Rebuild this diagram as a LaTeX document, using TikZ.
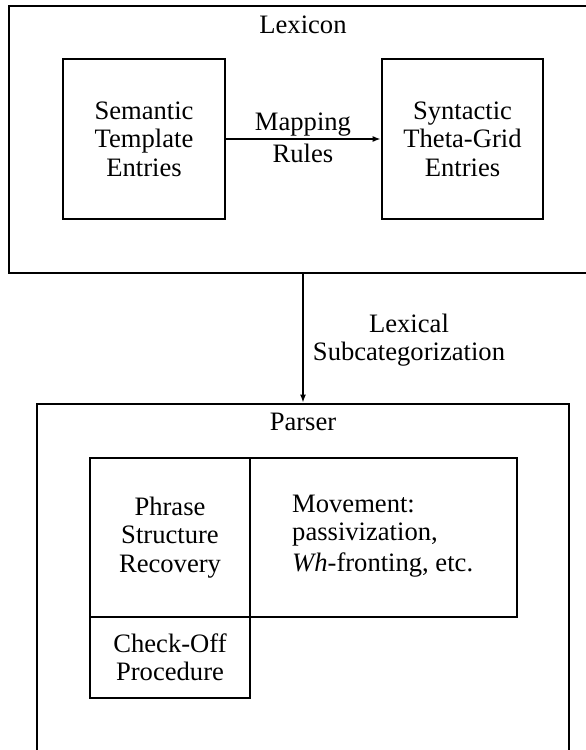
\documentclass[tikz,border=0pt]{standalone}
\usepackage{fontspec}
\setmainfont{Liberation Serif}
\usetikzlibrary{arrows.meta}
\begin{document}
\begin{tikzpicture}[x=1pt,y=-1pt,
  txt/.style={font=\fontsize{26.6}{28.5}\selectfont, align=center, inner sep=0pt},
  bigbox/.style={draw, line width=2.8pt, inner sep=0pt},
  inbox/.style={draw, line width=2.6pt, inner sep=0pt, txt},
  pbox/.style={draw, line width=2.1pt, inner sep=0pt, txt},
  arr/.style={-{Latex[length=8pt,width=6pt]}, line width=2.2pt}]
\useasboundingbox (0,0) rectangle (586,750);
% Lexicon
\node[bigbox, minimum width=590pt, minimum height=267pt] (lex) at (304,139.5) {};
\node[txt] (lexlbl) at (303,25) {Lexicon};
\node[inbox, minimum width=162pt, minimum height=160pt] (sem) at (144,139) {Semantic\\Template\\Entries};
\node[inbox, minimum width=161pt, minimum height=160pt] (syn) at (462.5,139) {Syntactic\\Theta-Grid\\Entries};
\draw[arr] (sem.east) -- (syn.west);
\node[txt, font=\fontsize{26.6}{32}\selectfont] (map) at (303,138) {Mapping\\Rules};
% Parser
\node[bigbox, minimum width=532pt, minimum height=356pt] (par) at (303,582) {};
\node[txt] (parlbl) at (303,422) {Parser};
\node[pbox, minimum width=160pt, minimum height=159pt] (phr) at (170,537.5) {Phrase\\Structure\\Recovery};
\node[pbox, minimum width=267pt, minimum height=159pt] (mov) at (383.5,537.5) {};
\node[txt, align=left, anchor=west] (movtxt) at (292,536) {Movement:\\passivization,\\[2pt]\textit{Wh}-fronting, etc.};
\node[pbox, minimum width=160pt, minimum height=81pt] (chk) at (170,657.5) {Check-Off\\Procedure};
% connector
\draw[arr, line width=1.9pt] (par.north |- lex.south) -- (par.north);
\node[txt] (sub) at (409,340) {Lexical\\Subcategorization};
\end{tikzpicture}
\end{document}
